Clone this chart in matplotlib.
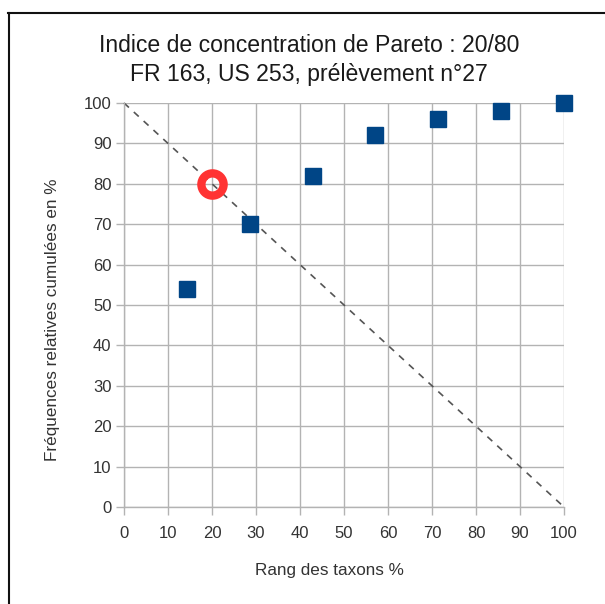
import matplotlib
matplotlib.use("Agg")
import matplotlib.pyplot as plt
from matplotlib.lines import Line2D

plt.rcParams['font.family'] = ['Liberation Sans', 'DejaVu Sans']

# Data
rank_pct = [14.3, 28.6, 42.9, 57.1, 71.4, 85.7, 100.0]
cum_freq = [54, 70, 82, 92, 96, 98, 100]
ref_line_x = [0, 100]
ref_line_y = [100, 0]
pareto_point = (20, 80)
x_ticks = list(range(0, 101, 10))
y_ticks = list(range(0, 101, 10))
title = "Indice de concentration de Pareto : 20/80\nFR 163, US 253, prélèvement n°27"
xlabel = "Rang des taxons %"
ylabel = "Fréquences relatives cumulées en %"

W, H = 605, 604
fig = plt.figure(figsize=(W / 100, H / 100), dpi=100)
ax = fig.add_axes([124 / W, 1 - 507 / H, (564 - 124) / W, (507 - 103) / H])

ax.set_xlim(0, 100)
ax.set_ylim(0, 100)
ax.set_xticks(x_ticks)
ax.set_yticks(y_ticks)
ax.grid(True, color='#b3b3b3', linewidth=1.0)
ax.set_axisbelow(True)
for s in ['top', 'right']:
    ax.spines[s].set_visible(False)
for s in ['left', 'bottom']:
    ax.spines[s].set_color('#b3b3b3')
    ax.spines[s].set_linewidth(1.0)
ax.tick_params(axis='both', colors='#b3b3b3', length=6, width=1.0,
               labelcolor='#333333', labelsize=12)
ax.tick_params(axis='x', pad=8)
ax.tick_params(axis='y', pad=3)

ax.plot(ref_line_x, ref_line_y, linestyle=(0, (4, 4)), color='#555555',
        linewidth=1.2, clip_on=False, zorder=2)
ax.plot(rank_pct, cum_freq, linestyle='none', marker='s', markersize=11,
        color='#004586', clip_on=False, zorder=3)
ax.plot([pareto_point[0]], [pareto_point[1]], linestyle='none', marker='o',
        markersize=16, markerfacecolor='none', markeredgecolor='#ff3333',
        markeredgewidth=6, clip_on=False, zorder=4)

fig.text(309 / W, 1 - 60 / H, title, ha='center', va='center', fontsize=16.6,
         color='#1a1a1a', linespacing=1.3)
fig.text(329 / W, 1 - 571 / H, xlabel, ha='center', va='center',
         fontsize=12.3, color='#333333')
fig.text(53 / W, 1 - 320 / H, ylabel, ha='center', va='center', rotation=90,
         fontsize=12.3, color='#333333')

# outer frame lines (top and left)
fig.add_artist(Line2D([8 / W, 1.0], [1 - 13 / H, 1 - 13 / H], color='#111111', linewidth=1.5))
fig.add_artist(Line2D([9 / W, 9 / W], [0, 1 - 13 / H], color='#111111', linewidth=1.5))

fig.savefig("out.png", dpi=100)
